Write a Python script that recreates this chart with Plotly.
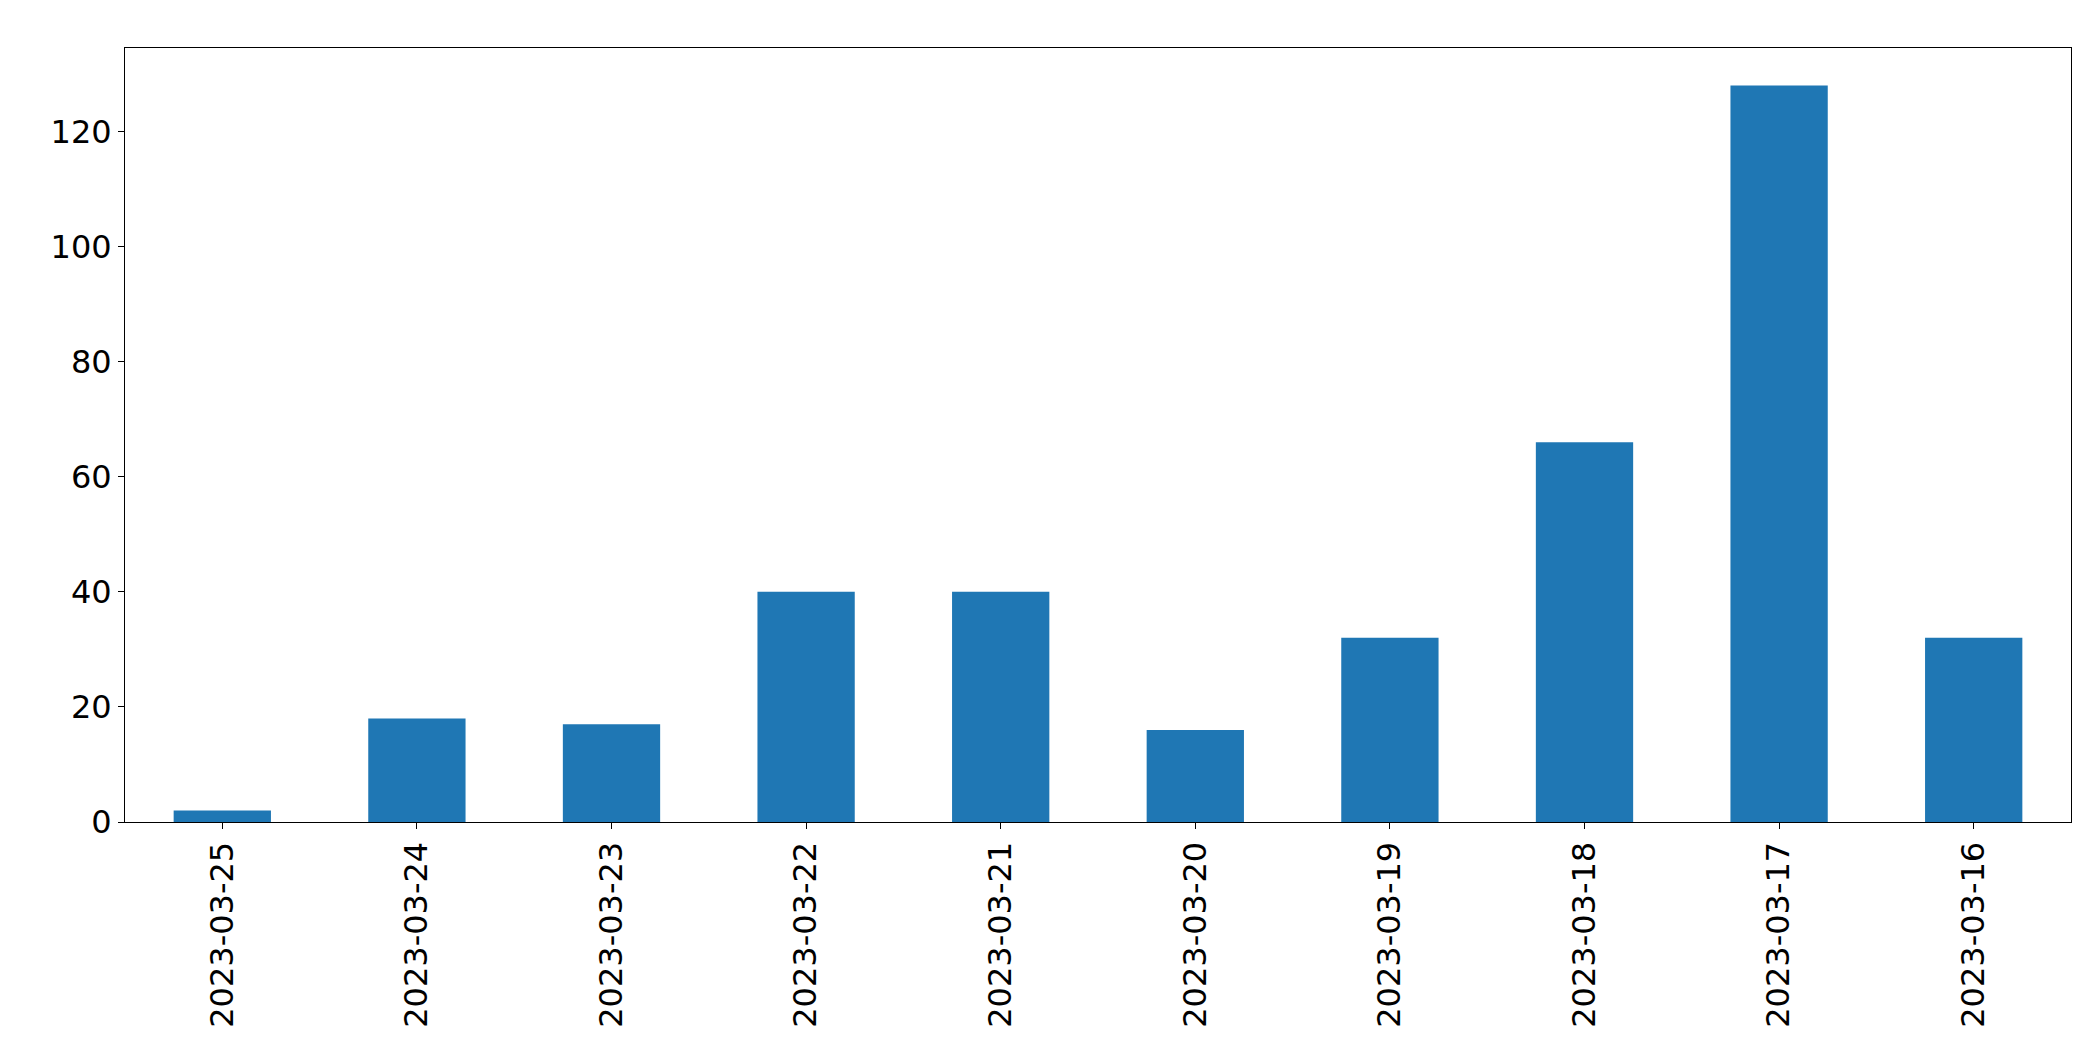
import plotly.graph_objects as go

dates = ["2023-03-25","2023-03-24","2023-03-23","2023-03-22","2023-03-21",
         "2023-03-20","2023-03-19","2023-03-18","2023-03-17","2023-03-16"]
counts = [2, 18, 17, 40, 40, 16, 32, 66, 128, 32]

fig = go.Figure(go.Bar(x=dates, y=counts, marker=dict(color="#1f77b4", line=dict(width=0)), width=0.5))
axis_common = dict(showline=True, linecolor="black", linewidth=1, mirror=True, ticks="outside",
                   ticklen=6, tickcolor="black", showgrid=False, zeroline=False,
                   tickfont=dict(family="DejaVu Sans", size=32, color="black"))
fig.update_layout(
    width=2093, height=1061, plot_bgcolor="white", paper_bgcolor="white",
    margin=dict(l=117, r=30, t=40, b=247), showlegend=False,
    xaxis=dict(type="category", range=[-0.5, 9.5], tickangle=-90, **axis_common),
    yaxis=dict(range=[0, 134.5], tickvals=[0,20,40,60,80,100,120], **axis_common),
)
fig.write_html("out.html")
